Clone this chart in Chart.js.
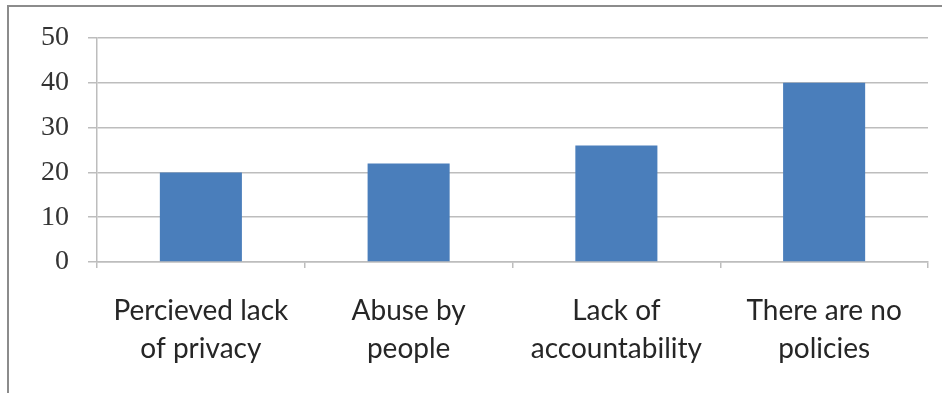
<!DOCTYPE html>
<html>
<head>
<meta charset="utf-8">
<script src="https://cdn.jsdelivr.net/npm/chart.js@4/dist/chart.umd.min.js"></script>
<style>
  html,body{margin:0;padding:0;background:#fff;}
  #wrap{position:relative;width:942px;height:393px;overflow:hidden;background:#fff;}
  #frame{position:absolute;left:7px;top:5px;width:960px;height:420px;border-left:2px solid #8c8c8c;border-top:2px solid #8c8c8c;}
  #chart{position:absolute;left:0;top:0;}
</style>
</head>
<body>
<div id="wrap">
  <div id="frame"></div>
  <canvas id="chart" width="942" height="393"></canvas>
</div>
<script>
// values
const categories=[["Percieved lack","of privacy"],["Abuse by","people"],["Lack of","accountability"],["There are no","policies"]];
const values=[20,22,26,40];
const yTicks=[0,10,20,30,40,50];

const GRID="#bdbdbd";
new Chart(document.getElementById("chart").getContext("2d"),{
  type:"bar",
  data:{ labels:categories, datasets:[{ data:values, backgroundColor:"#4a7ebb", borderWidth:0,
    categoryPercentage:1, barPercentage:0.395 }] },
  options:{
    animation:false, responsive:false, maintainAspectRatio:false,
    layout:{ padding:{ top:38, right:14, left:0, bottom:0 } },
    plugins:{ legend:{display:false}, tooltip:{enabled:false} },
    scales:{
      x:{
        afterFit(s){ s.height=131; },
        grid:{ drawOnChartArea:false, drawTicks:true, tickLength:6, color:GRID, lineWidth:1.5 },
        border:{ color:GRID, width:1.5 },
        ticks:{ color:"#262626", padding:24, font:{ family:"Lato, 'Open Sans', sans-serif", size:28, lineHeight:1.36 } }
      },
      y:{
        min:0, max:50,
        afterFit(s){ s.width=97; },
        afterBuildTicks(s){ s.ticks=yTicks.map(v=>({value:v})); },
        grid:{ color:GRID, lineWidth:1.5, tickLength:9 },
        border:{ color:GRID, width:1.5 },
        ticks:{ color:"#333", padding:19, font:{ family:"'Liberation Serif', 'Times New Roman', serif", size:28 } }
      }
    }
  }
});
</script>
</body>
</html>
